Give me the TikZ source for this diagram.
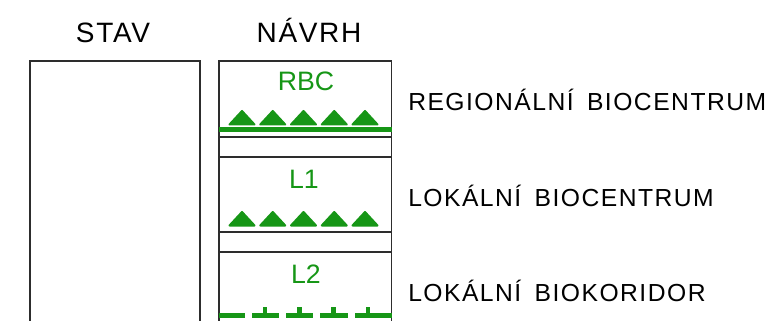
\documentclass[tikz,border=0pt]{standalone}
\usepackage{fontspec}
\setmainfont{Liberation Sans}
\newfontfamily\hdrfont[LetterSpace=6]{Liberation Sans}
\newfontfamily\lblfont[LetterSpace=6]{Liberation Sans}
\definecolor{grn}{RGB}{22,150,22}
\definecolor{frm}{RGB}{45,45,45}
\tikzset{
  frame/.style={draw=frm,line width=1.3pt},
  hdr/.style={anchor=base,inner sep=0pt,font=\hdrfont\fontsize{21}{21}\selectfont},
  code/.style={anchor=base,inner sep=0pt,text=grn,font=\fontsize{20}{20}\selectfont},
  lbl/.style={anchor=base west,inner sep=0pt,font=\lblfont\fontsize{18.5}{18.5}\selectfont},
  tri/.style={fill=grn,draw=grn,line width=1.5pt,line join=round},
  gline/.style={draw=grn,line width=3.1pt},
}
\begin{document}
\begin{tikzpicture}[x=0.75pt,y=-0.75pt]
\useasboundingbox (0,0) rectangle (775,321);
% STAV column
\draw[frame] (30,340) -- (30,61) -- (200,61) -- (200,340);
% NAVRH column
\draw[frame] (219,340) -- (219,61) -- (391.5,61) -- (391.5,340);
\foreach \yy in {137,157,232,252} \draw[frame] (219,\yy) -- (391.5,\yy);
% headers
\node[hdr] (stav) at (113,43) {STAV};
\node[hdr] (navrh) at (309,43) {NÁVRH};
% codes
\node[code] (rbc) at (306,91) {RBC};
\node[code] (l1) at (304,188) {L1};
\node[code] (l2) at (306,283) {L2};
% triangles
\foreach \cx in {242,272.75,303.5,334.25,365} {
  \filldraw[tri] (\cx-12.5,124.5) -- (\cx,111) -- (\cx+12.5,124.5) -- cycle;
  \filldraw[tri] (\cx-12.5,225.5) -- (\cx,212) -- (\cx+12.5,225.5) -- cycle;
}
% RBC green line
\draw[gline] (219,129.5) -- (391.5,129.5);
% L2 corridor line
\foreach \a/\b in {219/245,252/279,286/313,320/348,355/391.5} \draw[gline] (\a,315.5) -- (\b,315.5);
\foreach \tx in {265,299.5,333.5,368} \draw[gline] (\tx,307) -- (\tx,315.5);
% labels
\node[lbl] (lrbc) at (408,111) {REGIONÁLNÍ\hspace{10pt}BIOCENTRUM};
\node[lbl] (ll1) at (408,206) {LOKÁLNÍ\hspace{10pt}BIOCENTRUM};
\node[lbl] (ll2) at (408,301) {LOKÁLNÍ\hspace{10pt}BIOKORIDOR};
\end{tikzpicture}
\end{document}
